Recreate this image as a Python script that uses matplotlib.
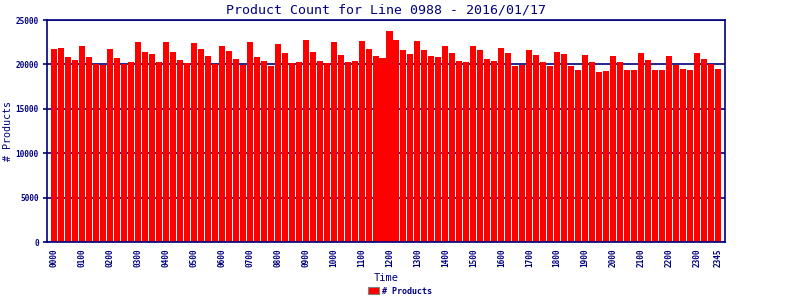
import numpy as np
import matplotlib
matplotlib.use('Agg')
import matplotlib.pyplot as plt

# 15-minute slots over one day
times = [f"{h:02d}{m:02d}" for h in range(24) for m in (0, 15, 30, 45)]
counts = [
    21705, 21818, 20795, 20455, 22045, 20795, 20000, 19886,
    21705, 20682, 20000, 20227, 22500, 21364, 21136, 20227,
    22500, 21364, 20455, 20114, 22386, 21705, 20909, 20000,
    22045, 21477, 20568, 19886, 22500, 20795, 20341, 19773,
    22273, 21250, 20114, 20227, 22727, 21364, 20341, 20114,
    22500, 21023, 20227, 20341, 22614, 21705, 20909, 20682,
    23750, 22727, 21591, 21136, 22614, 21591, 20909, 20795,
    22045, 21250, 20341, 20227, 22045, 21591, 20568, 20341,
    21818, 21250, 19773, 19886, 21591, 21023, 20227, 19773,
    21364, 21136, 19773, 19318, 21023, 20227, 19091, 19205,
    20909, 20227, 19318, 19318, 21250, 20455, 19318, 19318,
    20909, 19886, 19432, 19318, 21250, 20568, 20000, 19432,
]
tick_labels = [t for t in times if t.endswith("00")] + ["2345"]

navy = '#000080'
mono = 'DejaVu Sans Mono'

fig = plt.figure(figsize=(8, 3), dpi=100)
ax = fig.add_axes([47/800, 58/300, 678/800, 222/300])

x = np.arange(len(times))
ax.bar(x, counts, width=0.86, color='#ff0000', zorder=2, label='# Products')
ax.set_xlim(-1, len(times))
ax.set_ylim(0, 25000)

ax.set_yticks(np.arange(0, 25001, 5000))
ax.yaxis.grid(True, color=navy, linewidth=1.2, zorder=1)
ax.set_axisbelow(True)

tick_pos = [times.index(t) for t in tick_labels]
ax.set_xticks(tick_pos)
ax.set_xticklabels(tick_labels, rotation=90, fontsize=5.6, family=mono,
                   color=navy, fontweight='bold')
for lab in ax.get_yticklabels():
    lab.set_fontsize(5.6)
    lab.set_family(mono)
    lab.set_color(navy)
    lab.set_fontweight('bold')
ax.tick_params(axis='x', length=0, pad=5)
ax.tick_params(axis='y', length=3, color=navy, width=1.2, pad=3)

for s in ax.spines.values():
    s.set_color(navy)
    s.set_linewidth(1.2)

ax.set_title("Product Count for Line 0988 - 2016/01/17", fontsize=9.5,
             family=mono, color=navy, pad=5)
ax.set_xlabel("Time", fontsize=7.5, family=mono, color=navy, va='center')
ax.xaxis.set_label_coords(0.5, -0.162)
ax.set_ylabel("# Products", fontsize=7.2, family=mono, color=navy, va='center')
ax.yaxis.set_label_coords(-0.058, 0.5)

leg = fig.legend(loc='lower center', bbox_to_anchor=(0.5, -0.01), frameon=False,
                 handlelength=1.3, handleheight=0.9, handletextpad=0.4,
                 prop={'family': mono, 'size': 6, 'weight': 'bold'})
for t in leg.get_texts():
    t.set_color(navy)
for h in leg.legend_handles:
    h.set_edgecolor('#808080')
    h.set_linewidth(0.8)

fig.savefig("out.png", dpi=100)
